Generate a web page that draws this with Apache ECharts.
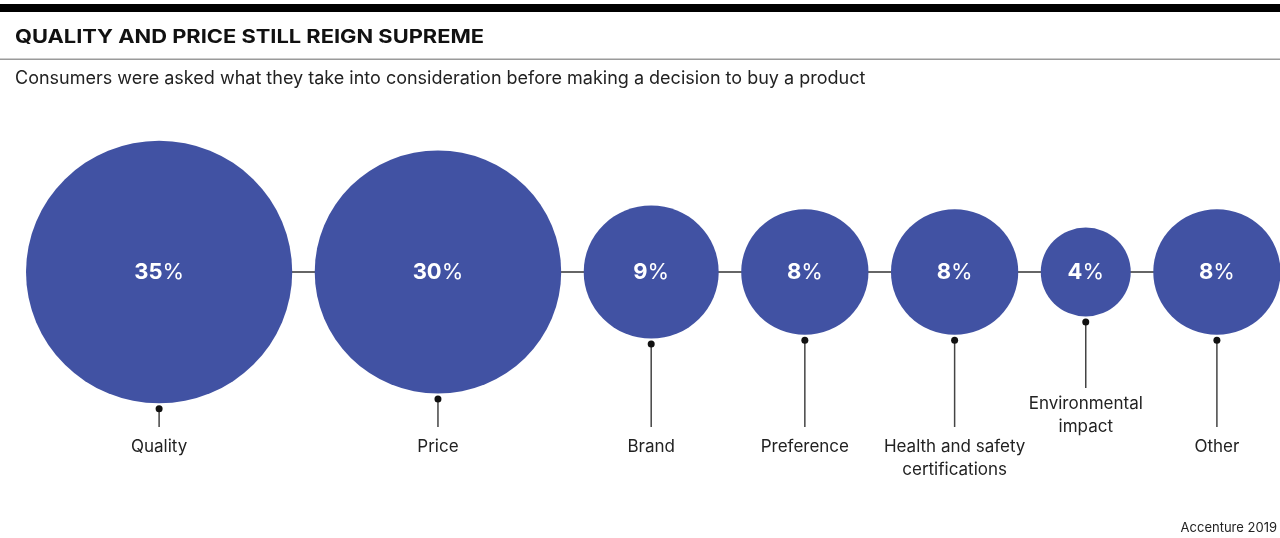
<!DOCTYPE html>
<html>
<head>
<meta charset="utf-8">
<script src="https://cdn.jsdelivr.net/npm/echarts@6/dist/echarts.min.js"></script>
<style>
html,body{margin:0;padding:0;background:#fff;}
#chart{width:1280px;height:538px;}
</style>
</head>
<body>
<div id="chart"></div>
<script>
// ---- data ----
const categories = ['Quality', 'Price', 'Brand', 'Preference', 'Health and safety\ncertifications', 'Environmental\nimpact', 'Other'];
const shares = [35, 30, 9, 8, 8, 4, 8];
const raisedLabels = ['Environmental\nimpact'];
const titleText = 'QUALITY AND PRICE STILL REIGN SUPREME';
const subtitleText = 'Consumers were asked what they take into consideration before making a decision to buy a product';
const sourceText = 'Accenture 2019';

// ---- layout / style ----
const FONT = 'Inter, "Noto Sans", sans-serif';
const BUBBLE = '#4152a3';
const KX = 22.5, KY = 22.2;      // px per sqrt(percent)
const START = 26, GAP = 22.5;    // packing of the bubbles along the row

let cursor = START;
const centers = shares.map(v => {
  const rx = KX * Math.sqrt(v);
  const c = cursor + rx;
  cursor = c + rx + GAP;
  return c;
});

const chart = echarts.init(document.getElementById('chart'), null, {renderer: 'canvas'});

const option = {
  animation: false,
  backgroundColor: '#ffffff',
  grid: {left: 0, right: 0, top: 172, height: 200, containLabel: false},
  xAxis: {type: 'value', min: 0, max: 1280, show: false},
  yAxis: {type: 'value', min: -1, max: 1, show: false},
  graphic: [
    {type: 'rect', shape: {x: 0, y: 4, width: 1280, height: 8}, style: {fill: '#000'}},
    {type: 'rect', shape: {x: 0, y: 58.5, width: 1280, height: 1.5}, style: {fill: '#9a9a9a'}},
    {type: 'text', x: 15, y: 37, scaleX: 1.15, style: {text: titleText, fontFamily: FONT, fontSize: 19, fontWeight: 'bold', fill: '#111', verticalAlign: 'middle'}},
    {type: 'text', x: 15, y: 79, style: {text: subtitleText, fontFamily: FONT, fontSize: 18, fill: '#222', verticalAlign: 'middle'}},
    {type: 'text', x: 1277, y: 528, style: {text: sourceText, fontFamily: FONT, fontSize: 13, fill: '#222', align: 'right', verticalAlign: 'middle'}}
  ],
  series: [
    {
      type: 'line',
      z: 1,
      symbol: 'none',
      silent: true,
      lineStyle: {color: '#333', width: 1.5},
      data: [[centers[0], 0], [centers[centers.length - 1], 0]]
    },
    {
      type: 'scatter',
      z: 3,
      data: shares.map((v, i) => ({
        value: [centers[i], 0, v],
        symbolSize: [2 * KX * Math.sqrt(v), 2 * KY * Math.sqrt(v)]
      })),
      itemStyle: {color: BUBBLE, opacity: 1},
      label: {
        show: true,
        position: 'inside',
        formatter: p => '{n|' + p.value[2] + '}{p|%}',
        rich: {
          n: {color: '#fff', fontFamily: FONT, fontSize: 22, fontWeight: 'bold'},
          p: {color: '#fff', fontFamily: FONT, fontSize: 22, fontWeight: 'normal'}
        }
      }
    },
    {
      type: 'custom',
      z: 2,
      silent: true,
      data: shares.map((v, i) => [centers[i], 0, v, i]),
      renderItem: (params, api) => {
        const i = api.value(3);
        const v = api.value(2);
        const c = api.coord([api.value(0), api.value(1)]);
        const ry = KY * Math.sqrt(v);
        const raised = raisedLabels.indexOf(categories[i]) >= 0;
        const dotY = c[1] + ry + 5.5;
        const endY = c[1] + (raised ? 116 : 155);
        const textTop = c[1] + (raised ? 120 : 163);
        return {
          type: 'group',
          children: [
            {type: 'line', shape: {x1: c[0], y1: dotY, x2: c[0], y2: endY}, style: {stroke: '#444', lineWidth: 1.5}},
            {type: 'circle', shape: {cx: c[0], cy: dotY, r: 3.5}, style: {fill: '#111'}},
            {type: 'text', x: c[0], y: textTop, style: {text: categories[i], fontFamily: FONT, fontSize: 17, lineHeight: 23, fill: '#222', align: 'center', verticalAlign: 'top'}}
          ]
        };
      }
    }
  ]
};
chart.setOption(option);
</script>
</body>
</html>
